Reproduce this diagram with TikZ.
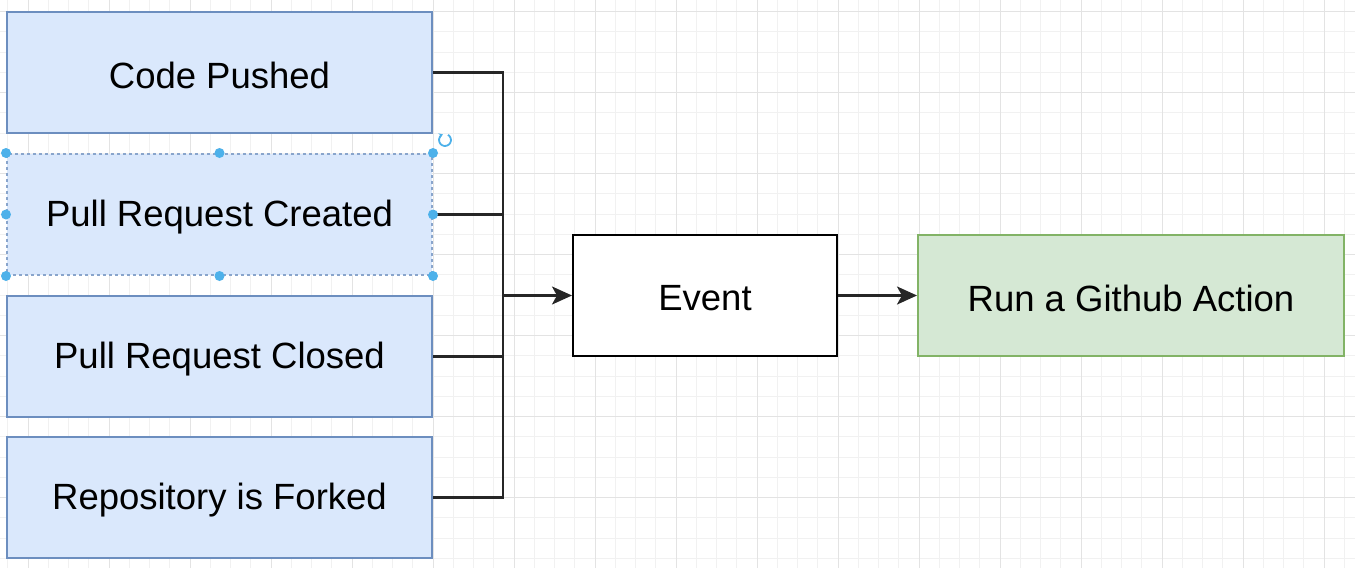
\documentclass[tikz,border=0pt]{standalone}
\usepackage{fontspec}
\setmainfont{Liberation Sans}
\usetikzlibrary{arrows.meta}
\definecolor{bluefill}{HTML}{DAE8FC}
\definecolor{bluedraw}{HTML}{6C8EBF}
\definecolor{greenfill}{HTML}{D5E8D4}
\definecolor{greendraw}{HTML}{82B366}
\definecolor{handle}{HTML}{4DB1EA}
\definecolor{minorgrid}{HTML}{F1F1F1}
\definecolor{majorgrid}{HTML}{E3E3E3}
\newcommand{\lbl}[1]{\raisebox{-3pt}[\height][\depth]{#1}}
\tikzset{
  evbox/.style={draw=bluedraw, fill=bluefill, line width=2pt, minimum width=425pt, minimum height=121pt, inner sep=0pt, font=\fontsize{36.5}{40}\selectfont},
  plainbox/.style={draw=black, fill=white, line width=2pt, minimum width=264pt, minimum height=121pt, inner sep=0pt, font=\fontsize{36.5}{40}\selectfont},
  actbox/.style={draw=greendraw, fill=greenfill, line width=2pt, minimum width=426pt, minimum height=121pt, inner sep=0pt, font=\fontsize{36.5}{40}\selectfont},
  conn/.style={draw=black!85, line width=2.4pt},
  arr/.style={conn, -{Stealth[length=20pt,width=18pt,inset=5pt]}},
  hdl/.style={fill=handle, draw=none, circle, minimum size=10pt, inner sep=0pt},
}
\begin{document}
\begin{tikzpicture}[x=1pt,y=-1pt]
\useasboundingbox (0,0) rectangle (1355,568);
\fill[white] (0,0) rectangle (1355,568);
% grid
\foreach \i in {0,...,67} {
  \draw[minorgrid, line width=1pt] (7.75+20.25*\i,0) -- (7.75+20.25*\i,568);
}
\foreach \i in {0,...,28} {
  \draw[minorgrid, line width=1pt] (0,11.7+20.25*\i) -- (1355,11.7+20.25*\i);
}
\foreach \i in {0,...,16} {
  \draw[majorgrid, line width=1pt] (28+81*\i,0) -- (28+81*\i,568);
}
\foreach \i in {0,...,6} {
  \draw[majorgrid, line width=1pt] (0,11.7+81*\i) -- (1355,11.7+81*\i);
}
% nodes
\node[evbox] (cp) at (219.5,72.5) {\lbl{Code Pushed}};
\node[evbox, dashed, draw=bluedraw!80] (prc) at (219.5,214.5) {\lbl{Pull Request Created}};
\node[evbox] (prx) at (219.5,356.5) {\lbl{Pull Request Closed}};
\node[evbox] (rf) at (219.5,497.5) {\lbl{Repository is Forked}};
\node[plainbox] (ev) at (705,295.5) {\lbl{Event}};
\node[actbox] (act) at (1131,295.5) {\lbl{Run a Github Action}};
\coordinate (j) at (503,295.5);
% connectors
\draw[conn] (cp.east) -| (j);
\draw[conn] (prc.east) -| (j);
\draw[conn] (prx.east) -| (j);
\draw[conn] (rf.east) -| (j);
\draw[arr] (j) -- (ev.west);
\draw[arr] (ev.east) -- (act.west);
% selection handles
\foreach \a in {north west,north,north east,west,east,south west,south,south east} {
  \node[hdl] at (prc.\a) {};
}
\draw[handle, line width=1.8pt, -{Stealth[length=4pt,width=5pt]}] (445,140) ++(60:6pt) arc[start angle=60, end angle=-250, radius=6pt];
\end{tikzpicture}
\end{document}
